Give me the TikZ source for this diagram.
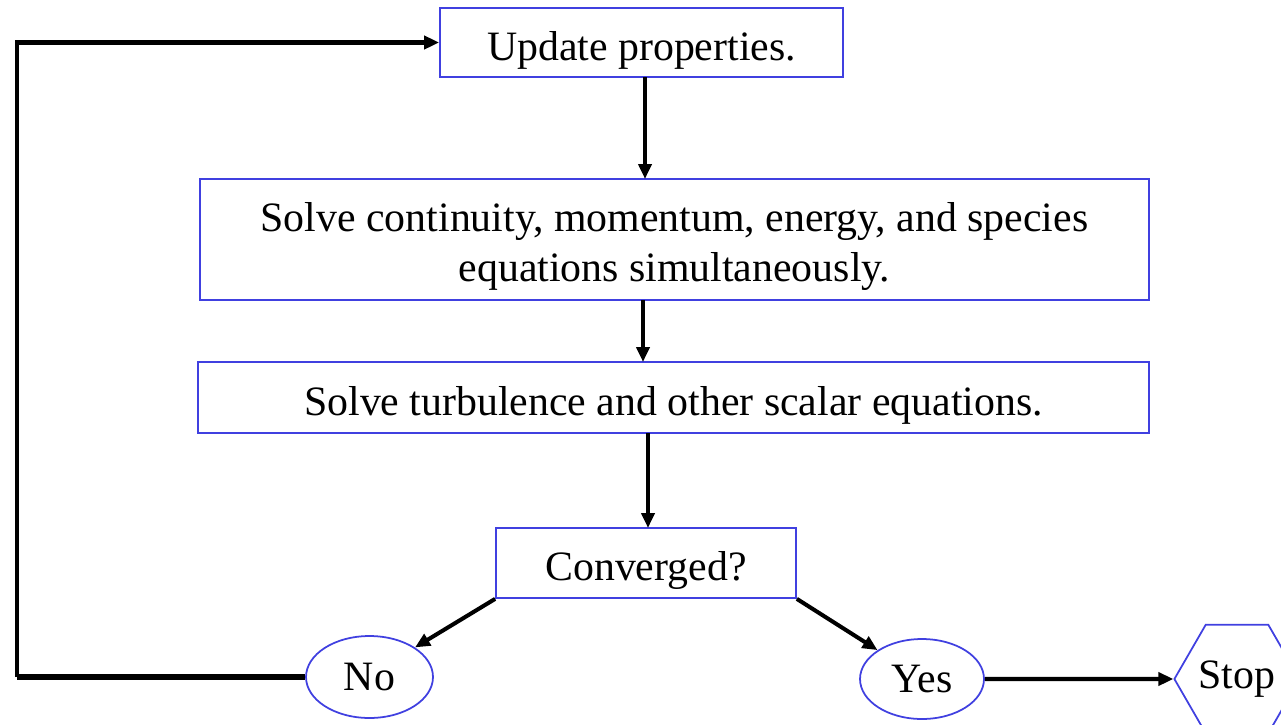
\documentclass[tikz,border=0pt]{standalone}
\usepackage{fontspec}
\setmainfont{Liberation Serif}
\usepackage{tikz}
\usetikzlibrary{arrows.meta,shapes.geometric}

\definecolor{boxblue}{RGB}{64,64,224}

\tikzset{
  stepbox/.style={draw=boxblue, line width=1pt, rectangle, inner sep=0pt, align=center},
  answer/.style={draw=boxblue, line width=1pt, ellipse, inner sep=0pt},
  flow/.style={line width=2.3pt, -{Triangle[length=0.3cm,width=0.26cm]}}
}
\newcommand{\lowstrut}[1]{\rule{0pt}{#1}}

\begin{document}
\begin{tikzpicture}[x=0.02cm, y=-0.02cm, font=\fontsize{23.8}{28.5}\selectfont]
    \useasboundingbox (0,0) rectangle (1281,724);

    % Steps
    \node[stepbox, minimum width=8.06cm, minimum height=1.38cm] (upd) at (641.5,42.5) {\lowstrut{1.05em}Update properties.};
    \node[stepbox, minimum width=18.98cm, minimum height=2.42cm] (solve) at (674.5,239.5)
        {\lowstrut{1.05em}Solve continuity, momentum, energy, and species\\equations simultaneously.};
    \node[stepbox, minimum width=19.02cm, minimum height=1.42cm] (turb) at (673.5,397.5)
        {\lowstrut{1.05em}Solve turbulence and other scalar equations.};
    \node[stepbox, minimum width=6cm, minimum height=1.4cm] (conv) at (646,563) {\lowstrut{1.05em}Converged?};

    % Answers
    \node[answer, minimum width=2.54cm, minimum height=1.64cm] (no) at (369.5,677) {No};
    \node[answer, minimum width=2.48cm, minimum height=1.6cm] (yes) at (922,679) {Yes};
    \node[draw=boxblue, line width=1pt, regular polygon, regular polygon sides=6,
          minimum size=2.36cm, inner sep=0pt] (stop) at (1237,679) {Stop};

    % Connectors
    \draw[flow] (645,77) -- (645,179);
    \draw[flow] (643,300) -- (643,362);
    \draw[flow] (648,433) -- (648,528);
    \draw[flow] (conv.south west) -- (no.north east);
    \draw[flow] (conv.south east) -- (yes.north west);
    \draw[flow] (yes.east) -- (stop.west);

    % Loop back
    \coordinate (back) at (17,677);
    \draw[line width=3.2pt] (no.west) -- (back);
    \draw[flow] (back) |- (upd.west);
\end{tikzpicture}
\end{document}
